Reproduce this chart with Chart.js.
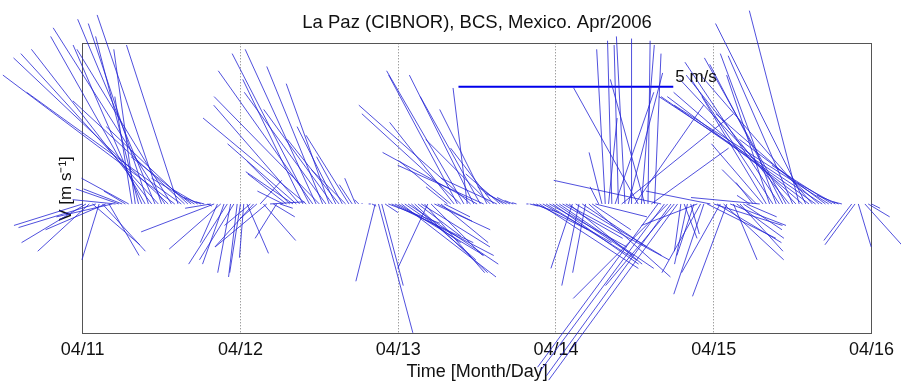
<!DOCTYPE html>
<html><head><meta charset="utf-8">
<script src="https://cdn.jsdelivr.net/npm/chart.js@4.4.1/dist/chart.umd.min.js"></script>
<style>html,body{margin:0;padding:0;background:#fff}#wrap{width:901px;height:382px}</style>
</head><body><div id="wrap"><canvas id="c" width="901" height="382"></canvas></div>
<script>
const tickLabels = ['04/11','04/12','04/13','04/14','04/15','04/16'];
const titleText = 'La Paz (CIBNOR), BCS, Mexico. Apr/2006';
const xTitle = 'Time [Month/Day]';
const yTitle = 'V [m s\u207B\u00B9]';
const sampleStepHours = 0.5;

// wind components (m/s), half-hourly, per day
const uApr11 = [-1.6,-1.5,-1.2,1.1,-1.8,-0.4,1.0,-1.4,0.7,-1.3,-1.0,-1.0,
  -0.9,-0.5,-1.1,-0.4,-0.5,-1.0,-1.6,-2.2,-1.4,-2.8,-1.8,-3.2,
  -1.5,-2.6,-3.6,-2.2,-4.0,-1.2,-3.6,-2.6,-1.9,-1.4,-1.0,-0.6,
  -0.4,-0.2,0.1,-0.6,-1.7,-0.4,-1.2,-0.5,-0.9,-0.3,-0.8,-0.2];
const vApr11 = [-0.5,-0.9,-1.1,-0.95,-0.55,-1.3,-1.1,-0.6,-1.2,-0.3,0.1,0.35,
  0.35,0.3,0.6,2.5,3.6,3.9,3.7,3.9,4.2,3.6,4.3,3.5,
  4.4,4.1,3.4,3.6,3.0,3.7,2.6,2.4,1.8,1.1,0.6,0.35,
  0.15,0.05,-0.05,-0.1,-0.65,-0.9,-1.05,-1.4,-1.4,-1.6,-1.3,-1.7];
const uApr12 = [-0.25,-0.1,0.5,-0.6,-0.9,-0.4,0.5,0.75,-1.2,0.8,0.5,-0.5,
  0.3,-0.6,-0.9,-1.0,-1.1,-1.6,-2.0,-1.4,-2.4,-1.8,-2.2,-1.65,
  -2.45,-1.3,-1.9,-1.0,-1.6,-0.9,-1.2,-0.6,-0.8,-1.0,-0.3,-0.25,
  -0.1,0.0,0.0,0.05,0.1,-0.45,0.8,0.5,0.3,1.2,1.9,2.3];
const vApr12 = [-1.6,-1.25,-1.15,-0.5,-1.0,-0.35,0.55,-0.85,-1.0,0.05,-0.3,-0.8,
  -0.1,0.3,0.7,1.0,0.75,1.4,2.3,2.9,2.0,3.5,3.1,3.6,
  2.5,3.2,2.6,2.8,2.2,1.8,1.5,1.1,0.8,1.6,0.45,0.6,
  0.1,0.02,0.0,0.0,-0.05,-1.8,-3.0,-1.9,-0.2,-0.45,-0.9,-1.2];
const uApr13 = [2.0,2.2,1.3,2.1,1.5,1.7,1.0,1.6,1.4,-0.7,1.2,1.3,
  0.8,1.1,0.6,-0.5,-1.2,-1.5,-1.6,-2.3,-1.8,-0.33,-2.6,-1.5,
  -2.2,-1.4,-2.0,-1.1,-1.5,-1.0,-1.3,-0.8,-0.6,-0.5,-0.3,-0.2,
  -0.1,0.0,0.0,0.05,0.2,0.6,1.2,2.3,1.6,2.1,1.8,2.0];
const vApr13 = [-1.2,-1.7,-0.9,-1.4,-1.3,-1.6,-0.75,-1.0,-1.6,-1.5,-1.2,-0.6,
  -0.4,-0.9,-0.3,0.4,1.0,1.9,3.0,2.1,3.1,2.7,2.3,3.0,
  1.2,2.5,0.9,2.2,1.5,1.3,0.6,0.7,0.4,0.25,0.15,0.08,
  0.03,0.0,0.0,0.0,-0.05,-0.2,-0.6,-1.5,-0.9,-1.3,-1.0,-1.4];
const uApr14 = [1.8,2.2,1.4,2.4,1.7,-0.5,2.0,-0.4,1.5,-0.3,1.9,0.9,
  1.2,-0.2,-0.3,-0.2,0.2,-0.1,0.9,-0.1,2.6,-0.2,0.8,0.0,
  1.6,-1.5,0.3,-0.8,0.05,1.8,0.15,-2.8,-2.5,-2.9,-2.2,-2.9,
  -1.6,-3.0,-0.15,0.3,-0.3,0.2,-0.4,-1.3,-0.9,-0.7,1.6,-1.5];
const vApr14 = [-1.2,-1.5,-0.8,-1.3,-1.4,-1.5,-1.2,-1.9,-1.0,-1.6,-1.7,-0.6,
  -0.3,0.4,1.2,3.6,2.0,3.8,2.6,3.7,2.1,3.9,3.05,3.85,
  2.3,2.7,3.7,2.9,3.8,1.3,3.5,-3.8,0.55,-3.9,-2.2,-4.0,
  -1.9,-4.1,-1.1,-0.8,-1.4,-0.7,-1.2,-0.5,-1.6,-2.1,-0.8,0.3];
const uApr15 = [1.6,1.5,-0.9,1.4,-0.8,1.3,0.55,1.1,1.0,0.9,0.7,-0.3,
  -0.4,-0.8,-1.6,-1.2,-1.5,-1.0,-1.9,-1.3,-2.2,-1.7,-1.9,-2.4,
  -1.5,-2.7,-1.16,-3.0,-2.1,-3.3,-2.6,-3.6,-2.4,-3.8,-2.0,-3.6,
  -1.4,-0.9,-0.5,-0.2,0.0,0.0,-0.65,-0.7,0.3,0.0,0.9,0.5,0.2];
const vApr15 = [-0.5,-0.9,-1.6,-1.3,-2.15,-0.5,-1.3,-0.8,-1.1,-0.6,-0.3,0.2,
  0.5,0.8,0.15,1.4,2.5,3.0,2.9,3.5,3.3,3.25,3.4,3.0,
  3.45,2.9,4.5,2.6,4.2,2.5,3.0,2.5,2.1,2.5,1.5,2.3,
  0.9,0.5,0.2,0.05,0.0,0.0,-0.85,-0.95,-1.0,0.0,-1.0,-0.3,-0.1];

// reference arrow (days, m/s)
const scaleBarStart = {x: 2.382, y: 2.728};
const scaleBarSpeed = 5;
const scaleBarLabel = '5 m/s';

const FF = "'Liberation Sans', Arial, Helvetica, sans-serif";
const uAll = [].concat(uApr11, uApr12, uApr13, uApr14, uApr15);
const vAll = [].concat(vApr11, vApr12, vApr13, vApr14, vApr15);
const times = uAll.map((_, i) => i * sampleStepHours / 24);

let k = 43 / 158; // days per (m/s) so sticks keep true direction

function buildSticks(kk) {
  const pts = [];
  for (let i = 0; i < uAll.length; i++) {
    pts.push({x: times[i], y: 0});
    pts.push({x: times[i] + uAll[i] * kk, y: vAll[i]});
    pts.push({x: times[i], y: null});
  }
  return pts;
}
function buildBar(kk) {
  return [{x: scaleBarStart.x, y: scaleBarStart.y}, {x: scaleBarStart.x + scaleBarSpeed * kk, y: scaleBarStart.y}];
}

const scaleLabelPlugin = {
  id: 'scaleLabel',
  afterDatasetsDraw(chart) {
    const xs = chart.scales.x, ys = chart.scales.y, ctx = chart.ctx;
    const px = xs.getPixelForValue(scaleBarStart.x + scaleBarSpeed * k);
    const py = ys.getPixelForValue(scaleBarStart.y);
    ctx.save();
    ctx.font = '17px ' + FF;
    ctx.fillStyle = '#111';
    ctx.textAlign = 'left';
    ctx.textBaseline = 'alphabetic';
    ctx.fillText(scaleBarLabel, px + 2, py - 5);
    ctx.restore();
  }
};

const chart = new Chart(document.getElementById('c'), {
  type: 'scatter',
  data: {
    datasets: [
      {data: buildSticks(k), showLine: true, borderColor: 'rgb(35,35,212)', borderWidth: 0.8,
       pointRadius: 0, pointHoverRadius: 0, spanGaps: false, clip: false, tension: 0},
      {data: buildBar(k), showLine: true, borderColor: 'rgb(0,0,235)', borderWidth: 2.2,
       pointRadius: 0, pointHoverRadius: 0, clip: false}
    ]
  },
  options: {
    responsive: false, animation: false, events: [],
    layout: {padding: {left: 56.4, right: 28.3, top: 0, bottom: 0}},
    plugins: {
      legend: {display: false}, tooltip: {enabled: false},
      title: {display: true, text: titleText, fullSize: false, color: '#111',
        font: {family: FF, size: 18.5, weight: 'normal', lineHeight: 1.2},
        padding: {top: 12.2, bottom: 8.9}}
    },
    scales: {
      x: {type: 'linear', position: 'bottom', min: 0, max: 5,
        ticks: {stepSize: 1, autoSkip: false, maxRotation: 0, padding: 7, color: '#111',
          font: {family: FF, size: 18, lineHeight: 1.0}, callback: (v) => tickLabels[Math.round(v)]},
        grid: {color: '#777', lineWidth: 1, drawTicks: false},
        border: {color: '#555', width: 1, dash: [1, 2]},
        title: {display: true, text: xTitle, color: '#111',
          font: {family: FF, size: 18, lineHeight: 0.7}, padding: {top: 0, bottom: 3.7}}},
      x2: {type: 'linear', position: 'top', min: 0, max: 5,
        ticks: {display: false}, grid: {display: false, drawTicks: false},
        border: {color: '#555', width: 1}},
      y: {type: 'linear', position: 'left', min: -3.02, max: 3.74,
        ticks: {display: false}, grid: {display: false, drawTicks: false},
        border: {color: '#555', width: 1},
        title: {display: true, text: yTitle, color: '#111',
          font: {family: FF, size: 17, lineHeight: 1.2}, padding: {top: 0, bottom: 5.9}}},
      y2: {type: 'linear', position: 'right', min: -3.02, max: 3.74,
        ticks: {display: false}, grid: {display: false, drawTicks: false},
        border: {color: '#555', width: 1}}
    }
  },
  plugins: [scaleLabelPlugin]
});

// recompute aspect factor from the actual scales so stick directions are true
(function () {
  const xs = chart.scales.x, ys = chart.scales.y;
  const pxDay = xs.getPixelForValue(1) - xs.getPixelForValue(0);
  const pxMs = ys.getPixelForValue(0) - ys.getPixelForValue(1);
  k = pxMs / pxDay;
  chart.data.datasets[0].data = buildSticks(k);
  chart.data.datasets[1].data = buildBar(k);
  chart.update('none');
})();
</script></body></html>
